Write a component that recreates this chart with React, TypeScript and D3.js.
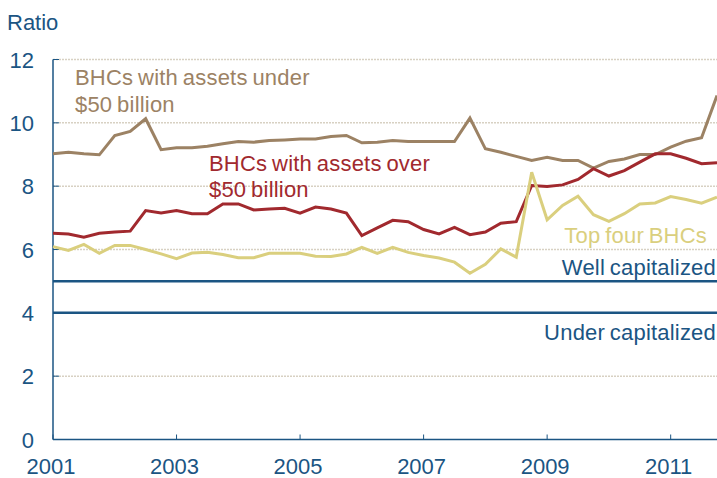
import React from 'react';
import * as d3 from 'd3';

// quarterly observations, 2001Q1 .. 2011Q4
const quarters: string[] = [];
for (let y = 2001; y <= 2011; y++) for (let q = 1; q <= 4; q++) quarters.push(`${y}Q${q}`);

const underFifty = [
  9.02, 9.07, 9.02, 8.99, 9.6, 9.73, 10.13, 9.15, 9.21, 9.21, 9.26, 9.34, 9.41, 9.39, 9.44,
  9.46, 9.49, 9.49, 9.57, 9.6, 9.37, 9.39, 9.44, 9.41, 9.41, 9.41, 9.41, 10.15, 9.18, 9.07,
  8.94, 8.81, 8.91, 8.81, 8.81, 8.57, 8.78, 8.86, 9.0, 9.0, 9.23, 9.42, 9.53, 10.86,
];
const overFifty = [
  6.51, 6.49, 6.39, 6.51, 6.55, 6.58, 7.23, 7.15, 7.23, 7.13, 7.13, 7.44, 7.44, 7.25, 7.28,
  7.3, 7.15, 7.34, 7.28, 7.15, 6.44, 6.68, 6.92, 6.88, 6.63, 6.49, 6.7, 6.47, 6.55, 6.83,
  6.88, 8.02, 7.99, 8.04, 8.21, 8.55, 8.32, 8.49, 8.76, 9.02, 9.02, 8.88, 8.71, 8.74,
];
const topFour = [
  6.09, 5.97, 6.16, 5.88, 6.13, 6.13, 6.0, 5.86, 5.71, 5.89, 5.91, 5.84, 5.74, 5.74, 5.88,
  5.88, 5.88, 5.79, 5.78, 5.86, 6.07, 5.88, 6.07, 5.91, 5.81, 5.73, 5.6, 5.25, 5.53, 6.02,
  5.76, 8.44, 6.94, 7.39, 7.68, 7.1, 6.89, 7.13, 7.44, 7.47, 7.67, 7.58, 7.46, 7.65,
];

const yTicks = [0, 2, 4, 6, 8, 10, 12];
const xTicks = [2001, 2003, 2005, 2007, 2009, 2011];
const wellCap = 5;
const underCap = 4;

const W = 717;
const H = 478;
const BLUE = '#1b5583';
const BROWN = '#9c8264';
const RED = '#a1292e';
const YELLOW = '#dacf7e';
const GRID = '#d8d1c3';
const FONT = '"Liberation Sans", Arial, sans-serif';

const toYear = (q: string) => +q.slice(0, 4) + (+q.slice(5) - 1) / 4;

const App = () => {
  const x = d3.scaleLinear().domain([2001, 2011.75]).range([53, 717]);
  const y = d3.scaleLinear().domain([0, 12]).range([439.5, 59.5]);

  const line = d3.line<number>()
    .x((d, i) => x(toYear(quarters[i])))
    .y(d => y(d));

  const series = [
    { values: underFifty, color: BROWN },
    { values: overFifty, color: RED },
    { values: topFour, color: YELLOW },
  ];

  return (
    <svg width={W} height={H} style={{ position: 'absolute', left: 0, top: 0, background: '#fff' }}
      fontFamily={FONT} fontSize={22}>
      <text x={7} y={30} fill={BLUE}>Ratio</text>

      {/* grid */}
      {yTicks.filter(t => t > 0).map(t => (
        <g key={t}>
          <line x1={x.range()[0]} x2={W} y1={y(t)} y2={y(t)} stroke={GRID} strokeWidth={1.5} strokeDasharray="2,1" />
          <line x1={x.range()[0]} x2={x.range()[0] + 6} y1={y(t)} y2={y(t)} stroke={BLUE} strokeWidth={1} />
        </g>
      ))}
      {yTicks.map(t => (
        <text key={t} x={34} y={y(t) + 8} textAnchor="end" fill={BLUE}>{t}</text>
      ))}

      {/* thresholds */}
      <line x1={x.range()[0]} x2={W} y1={y(wellCap)} y2={y(wellCap)} stroke={BLUE} strokeWidth={2.5} />
      <line x1={x.range()[0]} x2={W} y1={y(underCap)} y2={y(underCap)} stroke={BLUE} strokeWidth={2.5} />

      {/* axes */}
      <line x1={x.range()[0]} x2={x.range()[0]} y1={y(12)} y2={y(0)} stroke={BLUE} strokeWidth={1.5} />
      <line x1={x.range()[0]} x2={W} y1={y(0)} y2={y(0)} stroke={BLUE} strokeWidth={1.5} />
      {xTicks.map(t => (
        <g key={t}>
          <line x1={x(t)} x2={x(t)} y1={y(0)} y2={y(0) - 5} stroke={BLUE} strokeWidth={1} />
          <text x={x(t) - 2} y={474} textAnchor="middle" fill={BLUE}>{t}</text>
        </g>
      ))}

      {series.map(s => (
        <path key={s.color} d={line(s.values) || ''} fill="none" stroke={s.color} strokeWidth={3} strokeLinejoin="miter" />
      ))}

      {/* labels */}
      <g wordSpacing={-1.5} letterSpacing={0.2}>
        <text x={75} y={85} fill={BROWN}>
          <tspan x={75}>BHCs with assets under</tspan>
          <tspan x={75} dy={26.5}>$50 billion</tspan>
        </text>
        <text x={209} y={171} fill={RED}>
          <tspan x={209}>BHCs with assets over</tspan>
          <tspan x={209} dy={26}>$50 billion</tspan>
        </text>
        <text x={707} y={243} textAnchor="end" fill={YELLOW}>Top four BHCs</text>
        <text x={716} y={275} textAnchor="end" fill={BLUE}>Well capitalized</text>
        <text x={716} y={340} textAnchor="end" fill={BLUE}>Under capitalized</text>
      </g>
    </svg>
  );
};

export default App;
